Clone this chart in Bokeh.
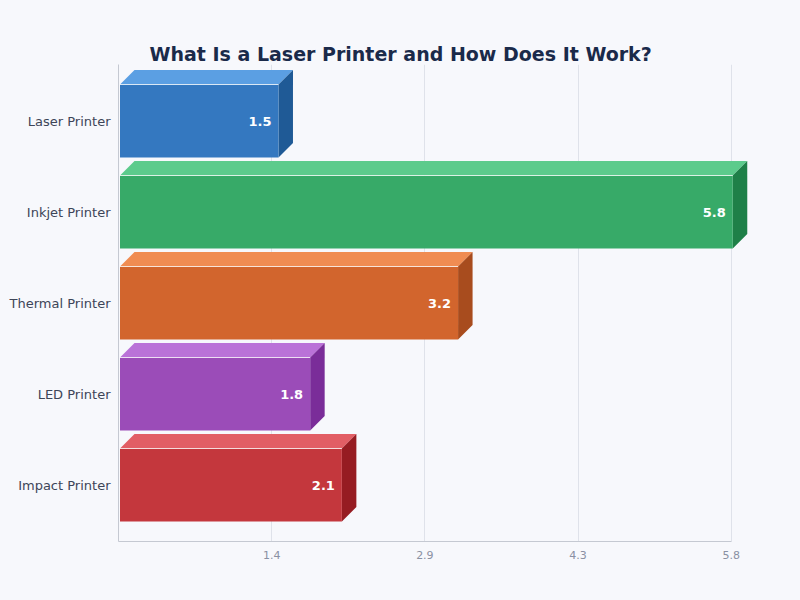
from bokeh.plotting import figure
from bokeh.models import Range1d, FixedTicker, Title, ColumnDataSource, LinearAxis
from bokeh.embed import file_html
from bokeh.resources import INLINE
from bokeh.core.properties import value

categories = ["Laser Printer", "Inkjet Printer", "Thermal Printer", "LED Printer", "Impact Printer"]
values = [1.5, 5.8, 3.2, 1.8, 2.1]
x_ticks = [1.45, 2.9, 4.35, 5.8]
x_tick_labels = ["1.4", "2.9", "4.3", "5.8"]
front_colors = ["#3478c0", "#37aa68", "#d2652d", "#9b4cb8", "#c4373d"]
top_colors = ["#5b9fe3", "#5ccb8c", "#f08c52", "#ba72d8", "#e25e65"]
side_colors = ["#1f5a96", "#1e8048", "#a84c1e", "#7a2d99", "#961c22"]
title_text = "What Is a Laser Printer and How Does It Work?"

BG = "#f7f8fc"
PX_X = 105.65     # pixels per value unit
PX_Y = 91.0       # pixels per category
BASE = 1.5 / PX_X
DX = 14.5 / PX_X
DY = 14.5 / PX_Y
HALF = 36.5 / PX_Y

n = len(categories)
p = figure(width=800, height=600, output_backend="svg", toolbar_location=None,
           x_range=Range1d(0, 650 / PX_X),
           y_range=Range1d(n - 1 + 56.5 / PX_Y, -56.5 / PX_Y),
           background_fill_color=BG, border_fill_color=BG, outline_line_color=None,
           min_border_left=118, min_border_right=32, min_border_top=64, min_border_bottom=59)

p.title = Title(text=title_text, align="left", offset=31, standoff=0,
                text_color="#1a2a4a", text_font="DejaVu Sans", text_font_size="19px", text_font_style="bold")

xa = p.below[0]
ya = p.left[0]

# invisible axis used only as a spacer between the title and the plot area
spacer = LinearAxis(ticker=FixedTicker(ticks=[]), axis_line_color=None, major_tick_line_color=None,
                    minor_tick_line_color=None, major_tick_in=0, major_tick_out=26, minor_tick_in=0, minor_tick_out=0,
                    major_label_standoff=0, major_label_text_font_size="1px", major_label_text_color=None)
p.add_layout(spacer, "above")

xs_front, ys_front, xs_top, ys_top, xs_side, ys_side = [], [], [], [], [], []
for i, v in enumerate(values):
    x1, x0 = BASE + v, BASE
    yt, yb = i - HALF, i + HALF
    xs_front.append([x0, x1, x1, x0]); ys_front.append([yb, yb, yt, yt])
    xs_top.append([x0, x0 + DX, x1 + DX, x1]); ys_top.append([yt, yt - DY, yt - DY, yt])
    xs_side.append([x1, x1 + DX, x1 + DX, x1]); ys_side.append([yb, yb - DY, yt - DY, yt])

p.patches(xs_top, ys_top, fill_color=top_colors, line_color=None)
p.patches(xs_side, ys_side, fill_color=side_colors, line_color=None)
p.patches(xs_front, ys_front, fill_color=front_colors, line_color=None)
p.segment([BASE] * n, [i - HALF for i in range(n)], [BASE + v for v in values], [i - HALF for i in range(n)],
          line_color="white", line_alpha=0.75, line_width=1)

src = ColumnDataSource(dict(x=[BASE + v for v in values], y=list(range(n)), t=[f"{v:.1f}" for v in values]))
p.text(x="x", y="y", text="t", source=src, x_offset=-7, y_offset=0,
       text_align="right", text_baseline="middle", text_color="white",
       text_font=value("DejaVu Sans"), text_font_size="13px", text_font_style="bold")

xa.ticker = FixedTicker(ticks=x_ticks)
xa.major_label_overrides = dict(zip(x_ticks, x_tick_labels))
xa.bounds = (0, 5.8)
xa.major_tick_line_color = None
xa.major_tick_out = 0
xa.major_tick_in = 0
xa.minor_tick_line_color = None
xa.minor_tick_in = 0
xa.minor_tick_out = 0
xa.axis_line_color = "#c5c9d2"
xa.major_label_text_color = "#8a90a3"
xa.major_label_text_font = "DejaVu Sans"
xa.major_label_text_font_size = "11px"
xa.major_label_standoff = 9

ya.ticker = FixedTicker(ticks=list(range(n)))
ya.major_label_overrides = dict(enumerate(categories))
ya.major_tick_line_color = None
ya.major_tick_out = 0
ya.major_tick_in = 0
ya.minor_tick_line_color = None
ya.minor_tick_in = 0
ya.minor_tick_out = 0
ya.axis_line_color = "#c5c9d2"
ya.major_label_text_color = "#3d4558"
ya.major_label_text_font = "DejaVu Sans"
ya.major_label_text_font_size = "13px"
ya.major_label_standoff = 8

p.ygrid.visible = False
p.xgrid.ticker = FixedTicker(ticks=x_ticks)
p.xgrid.grid_line_color = "#dfe2ea"
p.xgrid.grid_line_width = 1

html = file_html(p, INLINE)
html = html.replace("<head>", "<head><style>html,body{background:%s;overflow:hidden}</style>" % BG, 1)
open("out.html", "w").write(html)
